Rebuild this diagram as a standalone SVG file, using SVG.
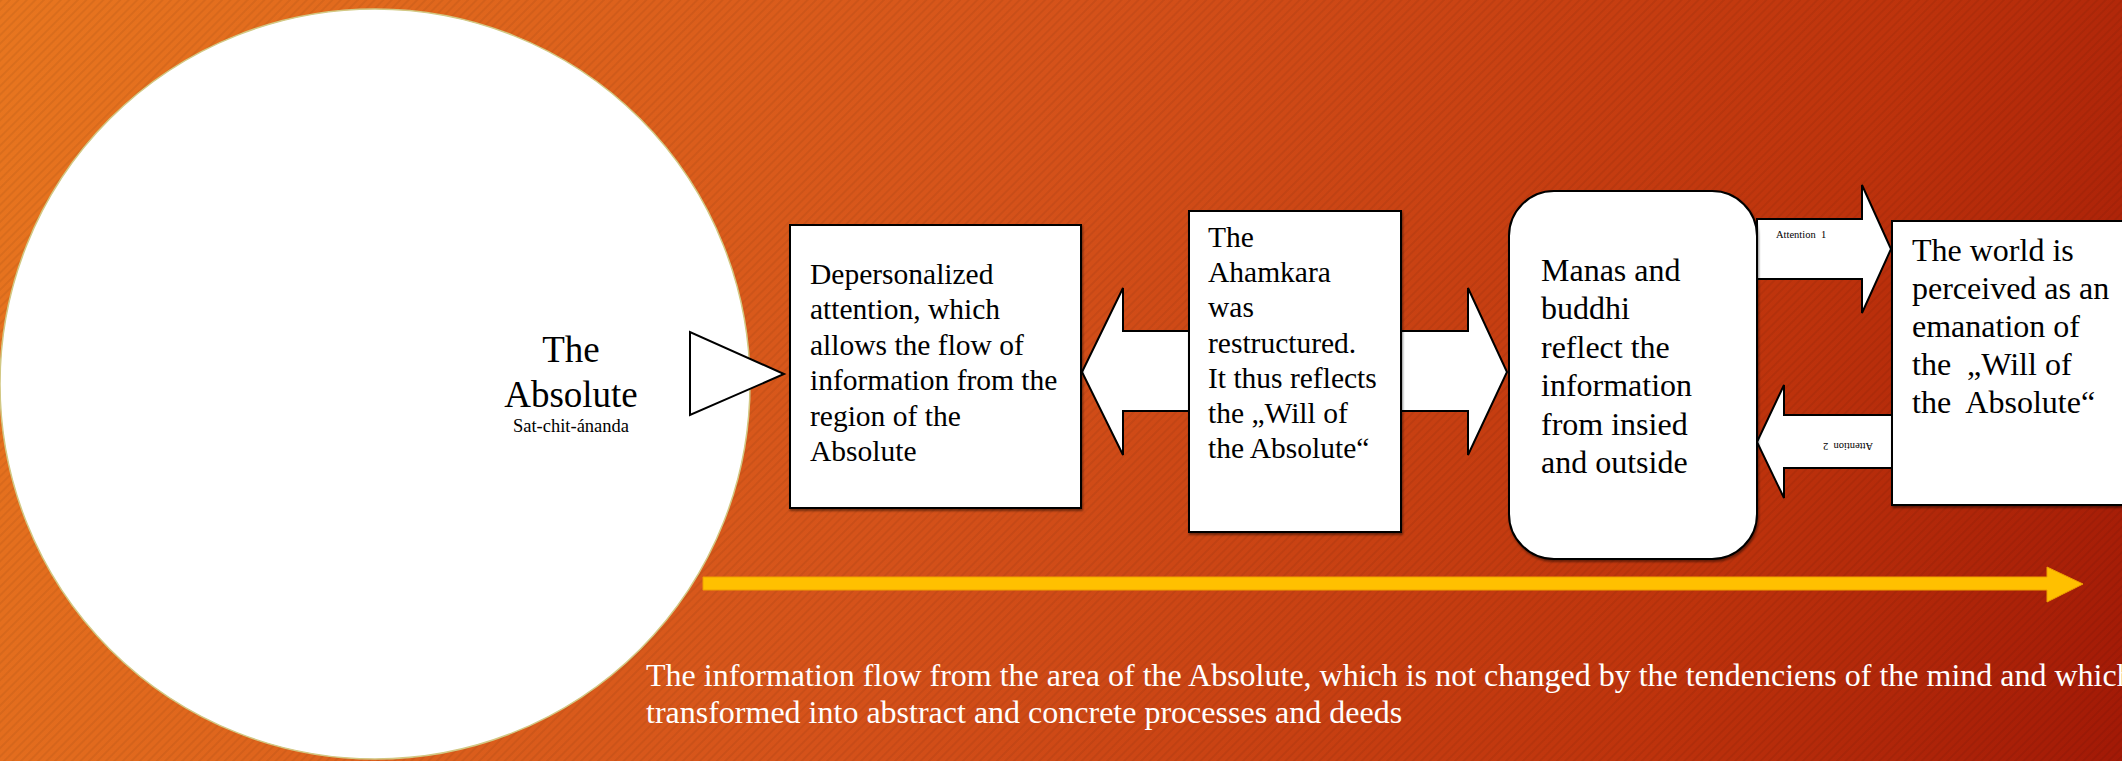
<svg xmlns="http://www.w3.org/2000/svg" width="2122" height="761" viewBox="0 0 2122 761">
  <defs>
    <linearGradient id="bg" gradientUnits="userSpaceOnUse" x1="0" y1="0" x2="2122" y2="761">
      <stop offset="0" stop-color="#E8761F"/>
      <stop offset="0.45" stop-color="#D5521A"/>
      <stop offset="0.8" stop-color="#BE330C"/>
      <stop offset="1" stop-color="#A21906"/>
    </linearGradient>
    <pattern id="hatch" patternUnits="userSpaceOnUse" width="6" height="6" patternTransform="rotate(45)">
      <rect x="0" y="0" width="2" height="6" fill="#000" fill-opacity="0.06"/>
    </pattern>
    <filter id="shadow" x="-5%" y="-5%" width="115%" height="115%">
      <feDropShadow dx="1" dy="2" stdDeviation="1" flood-color="#000" flood-opacity="0.45"/>
    </filter>
    <style>
      .box { fill: #fff; stroke: #000; stroke-width: 2; filter: url(#shadow); }
      .arrow { fill: #fff; stroke: #000; stroke-width: 2; stroke-linejoin: miter; }
      .t { font-family: "Liberation Serif", "Times New Roman", serif; fill: #000; }
      .w { font-family: "Liberation Serif", "Times New Roman", serif; fill: #fff; }
    </style>
  </defs>

  <rect x="0" y="0" width="2122" height="761" fill="url(#bg)"/>
  <rect x="0" y="0" width="2122" height="761" fill="url(#hatch)"/>

  <g id="absolute">
    <circle cx="375" cy="384" r="375" fill="#fff" stroke="#d2c884" stroke-width="1.5"/>
    <text class="t" x="571" y="362" font-size="37" text-anchor="middle">The</text>
    <text class="t" x="571" y="407" font-size="37" text-anchor="middle">Absolute</text>
    <text class="t" x="571" y="432" font-size="18.5" text-anchor="middle">Sat-chit-ánanda</text>
  </g>

  <g id="connectors">
    <polygon id="emit-triangle" class="arrow" points="690,332 690,415 784,374"/>
    <polygon id="double-arrow" class="arrow" points="1082,372 1123,288 1123,331 1468,331 1468,288 1507,372 1468,455 1468,411 1123,411 1123,455"/>
    <polygon id="attention1-arrow" class="arrow" points="1757,219 1862,219 1862,185 1891,249 1862,313 1862,279 1757,279"/>
    <polygon id="attention2-arrow" class="arrow" points="1892,415 1784,415 1784,385 1757,442 1784,498 1784,468 1892,468"/>
    <polygon id="flow-arrow" points="703,577 2047,577 2047,567 2083,584 2047,602 2047,590 703,590" fill="#FFC000" stroke="#F0A000" stroke-width="1"/>
    <text class="t" x="1776" y="238" font-size="10.5" xml:space="preserve">Attention  1</text>
    <text class="t" x="1848" y="451" font-size="10.5" text-anchor="middle" transform="rotate(180 1848 447)" xml:space="preserve">Attention  2</text>
  </g>

  <g id="depersonalized">
    <rect class="box" x="790" y="225" width="291" height="283"/>
    <text class="t" x="810" y="284" font-size="29.5">
      <tspan x="810" dy="0">Depersonalized</tspan>
      <tspan x="810" dy="35.4">attention, which</tspan>
      <tspan x="810" dy="35.4">allows the flow of</tspan>
      <tspan x="810" dy="35.4">information from the</tspan>
      <tspan x="810" dy="35.4">region of the</tspan>
      <tspan x="810" dy="35.4">Absolute</tspan>
    </text>
  </g>

  <g id="ahamkara">
    <rect class="box" x="1189" y="211" width="212" height="321"/>
    <text class="t" x="1208" y="247" font-size="29.5">
      <tspan x="1208" dy="0">The</tspan>
      <tspan x="1208" dy="35.2">Ahamkara</tspan>
      <tspan x="1208" dy="35.2">was</tspan>
      <tspan x="1208" dy="35.2">restructured.</tspan>
      <tspan x="1208" dy="35.2">It thus reflects</tspan>
      <tspan x="1208" dy="35.2">the „Will of</tspan>
      <tspan x="1208" dy="35.2">the Absolute“</tspan>
    </text>
  </g>

  <g id="manas-buddhi">
    <rect class="box" x="1509" y="191" width="248" height="368" rx="45" ry="45"/>
    <text class="t" x="1541" y="281" font-size="32">
      <tspan x="1541" dy="0">Manas and</tspan>
      <tspan x="1541" dy="38.4">buddhi</tspan>
      <tspan x="1541" dy="38.4">reflect the</tspan>
      <tspan x="1541" dy="38.4">information</tspan>
      <tspan x="1541" dy="38.4">from insied</tspan>
      <tspan x="1541" dy="38.4">and outside</tspan>
    </text>
  </g>

  <g id="world">
    <rect class="box" x="1892" y="221" width="240" height="284"/>
    <text class="t" x="1912" y="261" font-size="32" xml:space="preserve"><tspan x="1912" dy="0">The world is</tspan><tspan x="1912" dy="38">perceived as an</tspan><tspan x="1912" dy="38">emanation of</tspan><tspan x="1912" dy="38">the  „Will of</tspan><tspan x="1912" dy="38">the  Absolute“</tspan></text>
  </g>

  <g id="caption">
    <text class="w" x="646" y="686" font-size="32">The information flow from the area of the Absolute, which is not changed by the tendenciens of the mind and which</text>
    <text class="w" x="646" y="723" font-size="32">transformed into abstract and concrete processes and deeds</text>
  </g>
</svg>
